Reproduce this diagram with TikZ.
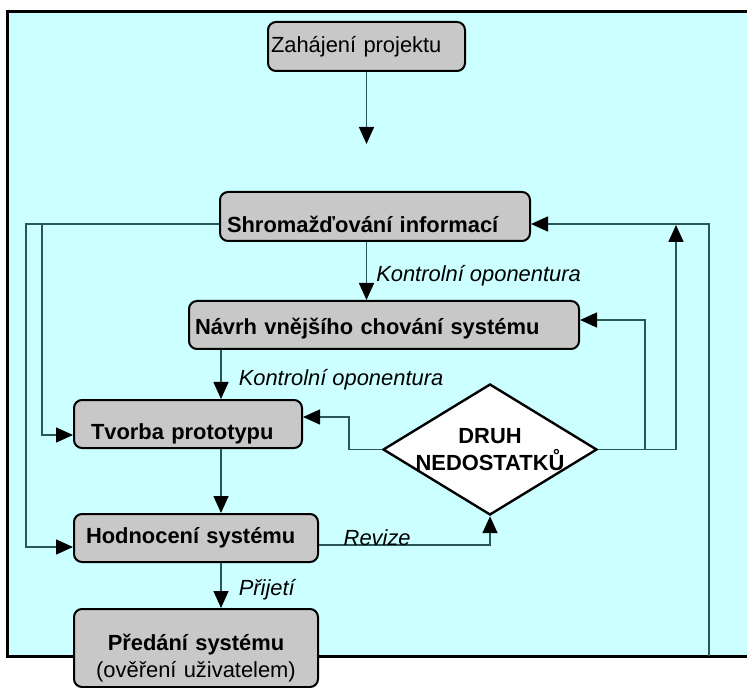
\documentclass[tikz,border=0pt,11pt]{standalone}
\usepackage{fontspec}
\setmainfont{Liberation Sans}
\usetikzlibrary{arrows.meta,positioning,shapes.geometric}
\definecolor{Sky}{HTML}{CCFFFF}
\definecolor{Box}{HTML}{C8C8C8}
\definecolor{Wire}{HTML}{2A5656}

\begin{document}
\begin{tikzpicture}[x=0.5pt,y=-0.5pt,
    b/.style={draw=black,line width=1pt,fill=Box,rounded corners=4pt,align=left,inner ysep=0pt,font=\bfseries},
    tb/.style 2 args={text height=#1,text depth=#2},
    dia/.style={diamond,draw=black,line width=1.2pt,fill=white,align=center,font=\bfseries,aspect=1.63,
      minimum width=107pt,minimum height=65.5pt,inner xsep=-4pt,inner ysep=-2pt},
    a/.style={draw=Wire,line width=0.75pt,-{Triangle[length=8.5pt,width=7.5pt,color=black]}},
    lbl/.style={font=\itshape,inner sep=0pt}]
  % background frame
  \useasboundingbox (0,0) rectangle (747,688);
  \fill[white] (0,0) rectangle (747,688);
  \fill[Sky] (7,12) rectangle (747,656);
  \draw[line width=1.5pt] (747,12) -- (7,12) -- (7,656) -- (747,656);

  \node[b,font=\mdseries,text width=95.5pt,inner xsep=1.5pt,tb={15.5pt}{9pt}] (zah) at (366.5,46.5) {Zahájení projektu};
  \node[b,text width=148pt,inner xsep=3.5pt,tb={20.5pt}{4pt}] (shrom) at (375,216.5) {Shromažďování informací};
  \node[b,text width=189pt,inner xsep=3pt,tb={17pt}{7pt}] (navrh) at (384,325) {Návrh vnějšího chování systému};
  \node[b,text width=97pt,inner xsep=8.5pt,tb={19.5pt}{4.5pt}] (tvorba) at (188,424) {Tvorba prototypu};
  \node[b,text width=110pt,inner xsep=6pt,tb={14.5pt}{9.5pt}] (hodn) at (196,538) {Hodnocení systému};
  \node[b,align=center,text width=106pt,inner xsep=8pt,tb={20.5pt}{18.5pt}] (predani) at (196,648)
    {Předání systému\\{\mdseries (ověření uživatelem)}};
  \node[dia] (dr) at (490,449.5) {DRUH\\NEDOSTATKŮ};

  \coordinate (lx) at (221,0);
  \coordinate (lo) at (26,224);
  \coordinate (li) at (42,224);
  \coordinate (rb) at (709,656);
  \coordinate (upend) at (676,225);

  % main flow
  \draw[a] (zah.south) -- ++(0,72);
  \draw[a] (shrom.south -| zah.south) -- node[lbl,right=4.5pt,pos=0.58] {Kontrolní oponentura} (navrh.north -| zah.south);
  \draw[a] (navrh.south -| lx) -- node[lbl,right=8.5pt,pos=0.6] {Kontrolní oponentura} (tvorba.north -| lx);
  \draw[a] (tvorba.south -| lx) -- (hodn.north -| lx);
  \draw[a] (hodn.south -| lx) -- node[lbl,right=8.5pt,pos=0.6] {Přijetí} (predani.north -| lx);

  % loops back
  \draw[a] ([yshift=-3.75pt]shrom.west) -- (lo) |- ([yshift=-4.5pt]hodn.west);
  \draw[a] (li) |- ([yshift=-5.5pt]tvorba.west);
  \draw[a] (rb) |- ([yshift=-3.75pt]shrom.east);
  \draw[a] ([yshift=-3.5pt]hodn.east) -| node[lbl,pos=0.07,anchor=base west] {Revize} (dr.south);
  \draw[a] (dr.west) -- ++(-33,0) |- ([yshift=3.5pt]tvorba.east);
  \draw[a] (dr.east) -| (upend);
  \draw[a] (dr.east) ++(47,0) |- ([yshift=2.5pt]navrh.east);
\end{tikzpicture}
\end{document}
